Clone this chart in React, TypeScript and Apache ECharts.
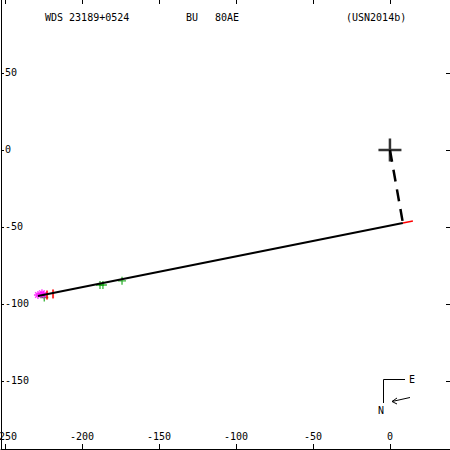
import React, { useEffect, useRef } from "react";
import * as echarts from "echarts";

// ---- data ----
const xTicks = [-250, -200, -150, -100, -50, 0];
const yTicks = [-150, -100, -50, 0, 50];
const X_MIN = -252.6;
const X_MAX = 39.0;
const Y_MIN = -194.2;
const Y_MAX = 97.4;

const fitLine = [[-228.6, -94.8], [8.4, -47.4]];
const ephemeris = [[8.4, -47.4], [14.9, -46.1]];
const closestApproach = [[0, 0], [8.4, -47.4]];
const primaryStar = [[0, 0]];
const greenObs = [[-188.3, -87.7], [-186.4, -87.7], [-174.0, -85.0], [-224.5, -95.8]];
const magentaObs = [[-228.6, -94.2], [-226.0, -93.0], [-224.8, -94.0]];
const redTicks = [[-222.7, -94.2], [-218.8, -93.5]];

const titleLeft = "WDS 23189+0524";
const titleMid1 = "BU";
const titleMid2 = "80AE";
const titleRight = "(USN2014b)";

const FONT = "DejaVu Sans Mono";

export default function App() {
  const ref = useRef<HTMLDivElement>(null);
  useEffect(() => {
    if (!ref.current) return;
    const chart = echarts.init(ref.current, undefined, { renderer: "svg" });
    const tickStyle = { color: "#000", width: 1 };
    const option: any = {
      animation: false,
      backgroundColor: "#fff",
      grid: { left: 1, right: 0, top: 0, bottom: 1, containLabel: false, outerBoundsMode: "none" },
      xAxis: [
        {
          type: "value", min: X_MIN, max: X_MAX, position: "bottom",
          axisLine: { show: true, onZero: false, lineStyle: { color: "#000", width: 1 } },
          axisTick: { show: true, inside: true, length: 5, lineStyle: tickStyle, customValues: xTicks },
          axisLabel: { show: true, inside: true, margin: 8, color: "#000", fontFamily: FONT, fontSize: 10, customValues: xTicks, showMinLabel: true, showMaxLabel: true },
          splitLine: { show: false },
        },
        {
          type: "value", min: X_MIN, max: X_MAX, position: "top",
          axisLine: { show: false, onZero: false },
          axisTick: { show: true, inside: true, length: 4, lineStyle: tickStyle, customValues: xTicks },
          axisLabel: { show: false },
          splitLine: { show: false },
        },
      ],
      yAxis: [
        {
          type: "value", min: Y_MIN, max: Y_MAX, position: "left",
          axisLine: { show: true, onZero: false, lineStyle: { color: "#000", width: 1 } },
          axisTick: { show: true, inside: true, length: 3, lineStyle: tickStyle, customValues: yTicks },
          axisLabel: { show: true, inside: true, margin: 4, color: "#000", fontFamily: FONT, fontSize: 10, customValues: yTicks },
          splitLine: { show: false },
        },
        {
          type: "value", min: Y_MIN, max: Y_MAX, position: "right",
          axisLine: { show: false, onZero: false },
          axisTick: { show: true, inside: true, length: 4, lineStyle: tickStyle, customValues: yTicks },
          axisLabel: { show: false },
          splitLine: { show: false },
        },
      ],
      series: [
        {
          type: "line", data: fitLine, symbol: "none", silent: true,
          lineStyle: { color: "#000", width: 2 }, z: 3,
        },
        {
          type: "line", data: ephemeris, symbol: "none", silent: true,
          lineStyle: { color: "#ff0000", width: 1.5 }, z: 3,
        },
        {
          type: "line", data: closestApproach, symbol: "none", silent: true,
          lineStyle: { color: "#000", width: 2.5, type: [12, 8] }, z: 3,
        },
        {
          type: "scatter", data: primaryStar, symbol: "path://M11,0V22M0,11H22", symbolSize: 23,
          itemStyle: { color: "none", borderColor: "#000", borderWidth: 2.5 }, z: 4,
        },
        {
          type: "scatter", data: greenObs, symbol: "path://M5,0V10M0,5H10", symbolSize: 8,
          itemStyle: { color: "none", borderColor: "#00a000", borderWidth: 1.3 }, z: 2,
        },
        {
          type: "scatter", data: magentaObs, symbol: "path://M0,5H10M5,0V10M1.5,1.5L8.5,8.5M8.5,1.5L1.5,8.5", symbolSize: 8,
          itemStyle: { color: "none", borderColor: "#ff00ff", borderWidth: 1.3 }, z: 2,
        },
        {
          type: "scatter", data: redTicks, symbol: "rect", symbolSize: [2, 9],
          itemStyle: { color: "#ff0000" }, z: 2,
        },
      ],
      graphic: [
        { type: "text", left: 45, top: 12, style: { text: titleLeft, fill: "#000", font: `10px "${FONT}"` } },
        { type: "text", left: 186, top: 12, style: { text: titleMid1, fill: "#000", font: `10px "${FONT}"` } },
        { type: "text", left: 215, top: 12, style: { text: titleMid2, fill: "#000", font: `10px "${FONT}"` } },
        { type: "text", left: 346, top: 12, style: { text: titleRight, fill: "#000", font: `10px "${FONT}"` } },
        { type: "polyline", shape: { points: [[405, 379.5], [383.5, 379.5], [383.5, 403]] }, style: { stroke: "#000", lineWidth: 1, fill: "none" } },
        { type: "text", x: 409, y: 374, style: { text: "E", fill: "#000", font: `10px "${FONT}"` } },
        { type: "text", x: 378, y: 405, style: { text: "N", fill: "#000", font: `10px "${FONT}"` } },
        { type: "polyline", shape: { points: [[410, 397.5], [392, 401.5]] }, style: { stroke: "#000", lineWidth: 1, fill: "none" } },
        { type: "polyline", shape: { points: [[397, 398], [392, 401.5], [397, 404]] }, style: { stroke: "#000", lineWidth: 1, fill: "none" } },
      ],
    };
    chart.setOption(option);
    return () => chart.dispose();
  }, []);
  return (
    <div
      ref={ref}
      style={{ position: "fixed", left: 0, top: 0, width: 450, height: 450 }}
    />
  );
}
